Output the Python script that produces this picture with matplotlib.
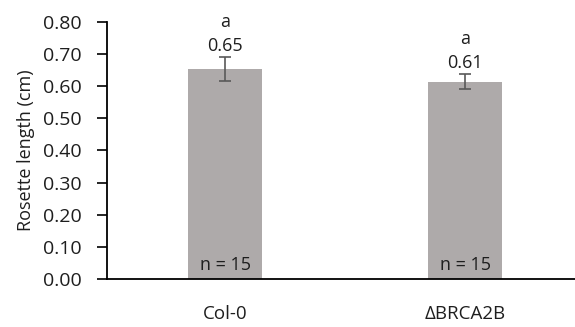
import numpy as np
import matplotlib.pyplot as plt

genotypes = ["Col-0", "\u0394BRCA2B"]
means = [0.653, 0.614]
errors = [0.037, 0.022]
value_labels = ["0.65", "0.61"]
letters = ["a", "a"]
n_labels = ["n = 15", "n = 15"]

plt.rcParams['font.family'] = ['Open Sans', 'DejaVu Sans']
txt = "#1e1e1e"

fig = plt.figure(figsize=(5.75, 3.27), dpi=100)
ax = fig.add_axes([107 / 575, 1 - 279 / 327, (575 - 107) / 575, (279 - 21.7) / 327])

x = np.arange(len(genotypes))
ax.bar(x, means, width=0.31, color="#AEAAAA", zorder=2)
ax.errorbar(x, means, yerr=errors, fmt="none", ecolor="#595959",
            elinewidth=1.2, capsize=4, capthick=1.2, zorder=3)

for xi, m, e, v, l, n in zip(x, means, errors, value_labels, letters, n_labels):
    ax.annotate(v, (xi, m + e), xytext=(0, 11), textcoords="offset pixels",
                ha="center", va="center", fontsize=13, color=txt)
    ax.annotate(l, (xi, m + e), xytext=(0, 35), textcoords="offset pixels",
                ha="center", va="center", fontsize=13, color=txt)
    ax.annotate(n, (xi, 0), xytext=(0, 14), textcoords="offset pixels",
                ha="center", va="center", fontsize=13, color=txt)

ax.set_xlim(-0.4917, 1.458)
ax.set_ylim(0, 0.8)
ax.set_yticks(np.arange(0, 0.81, 0.1))
ax.set_yticklabels(["%.2f" % t for t in np.arange(0, 0.81, 0.1)])
ax.set_xticks(x)
ax.set_xticklabels(genotypes)
ax.tick_params(axis="x", length=0, pad=19, labelsize=13.5, labelcolor=txt)
ax.tick_params(axis="y", length=7, width=1.2, direction="out", pad=11,
               labelsize=14, labelcolor=txt)
ax.set_ylabel("Rosette length (cm)", fontsize=13, color=txt, labelpad=6)

for side in ["top", "right"]:
    ax.spines[side].set_visible(False)
for side in ["left", "bottom"]:
    ax.spines[side].set_linewidth(1.3)
    ax.spines[side].set_color("black")

fig.savefig("out.png", dpi=100)
